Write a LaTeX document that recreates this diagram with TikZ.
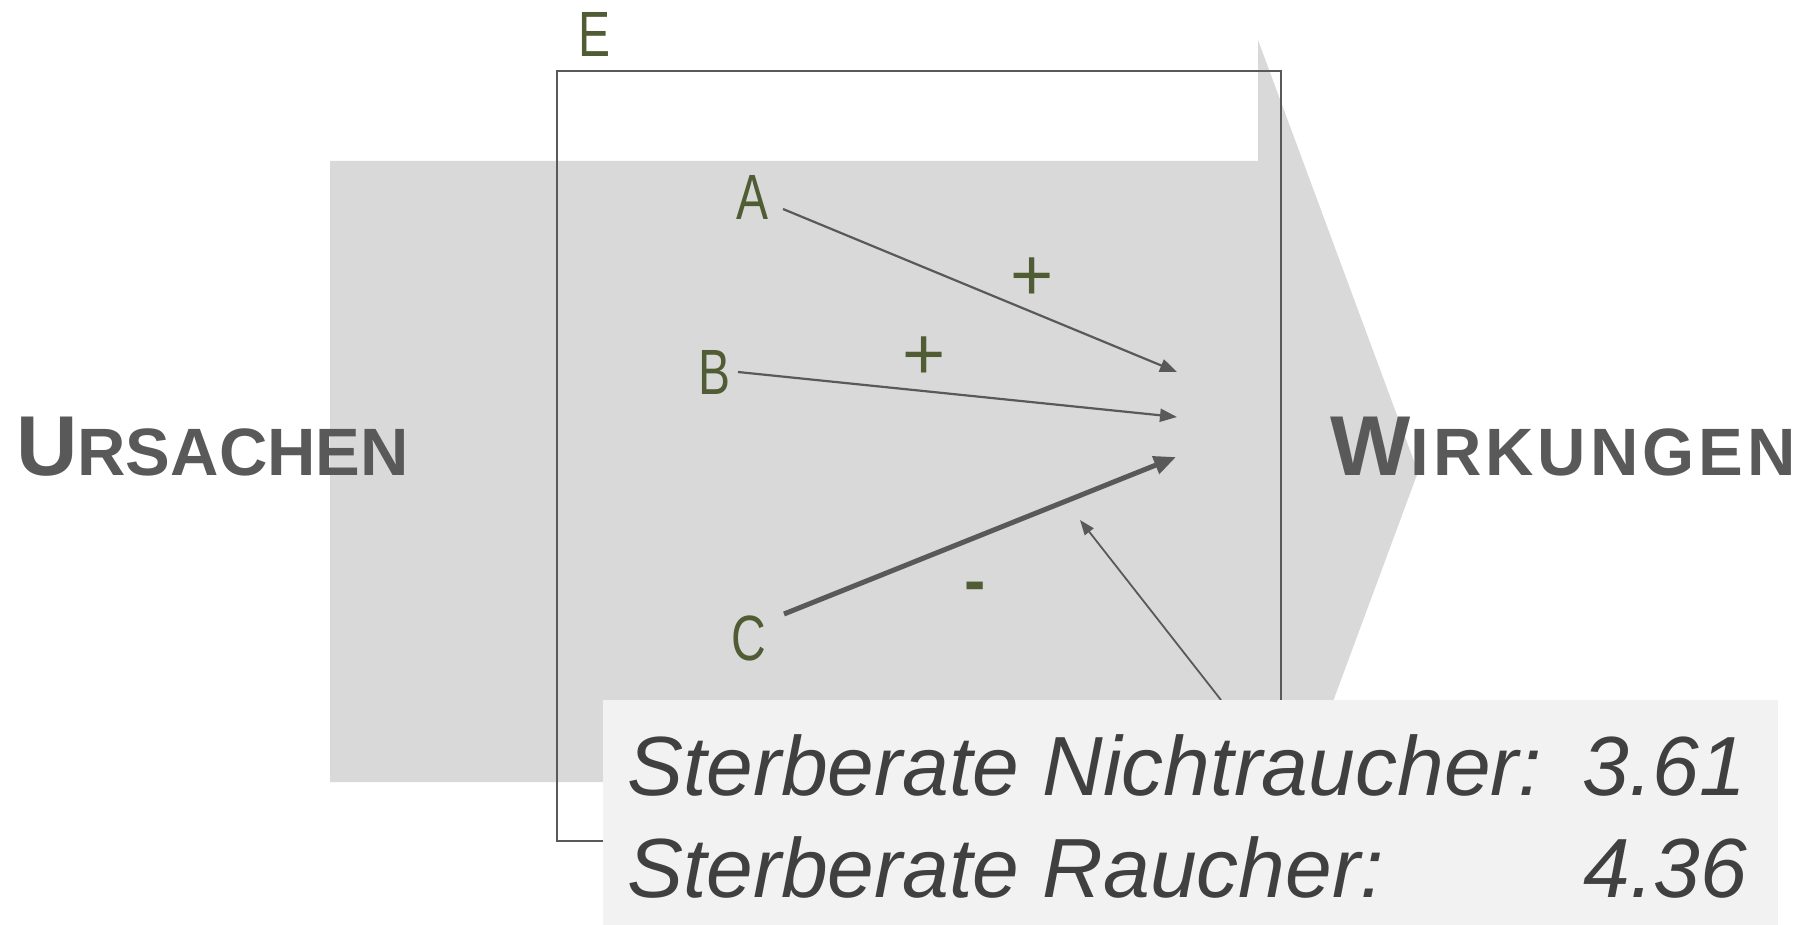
\documentclass[tikz,border=0pt]{standalone}
\usepackage{fontspec}
\setmainfont{Liberation Sans}
\newfontfamily\labfont[FakeStretch=0.75]{Liberation Sans}
\usetikzlibrary{arrows.meta}
\definecolor{bggray}{HTML}{D9D9D9}
\definecolor{boxgray}{HTML}{F2F2F2}
\definecolor{linegray}{HTML}{595959}
\definecolor{headgray}{HTML}{595959}
\definecolor{txtgray}{HTML}{404040}
\definecolor{olive}{RGB}{80,92,52}
\tikzset{
  lab/.style={font=\labfont\fontsize{64}{64}\selectfont, text=olive, inner sep=0pt, anchor=base},
  sign/.style={font=\fontsize{74}{74}\selectfont, text=olive, inner sep=0pt, anchor=base},
  minus/.style={font=\bfseries\fontsize{64}{64}\selectfont, text=olive, inner sep=0pt, anchor=base},
  head/.style={text=headgray, inner sep=0pt, anchor=base west, font=\bfseries},
  boxtxt/.style={text=txtgray, inner sep=0pt, font=\itshape\fontsize{84}{84}\selectfont},
  thinarr/.style={draw=linegray, line width=2.2pt, -{Triangle[length=17pt,width=13pt]}},
  thickarr/.style={draw=linegray, line width=5pt, -{Triangle[length=22pt,width=18pt]}},
  fbarr/.style={draw=linegray, line width=1.8pt, -{Triangle[length=15pt,width=11pt]}},
}
\begin{document}
\begin{tikzpicture}[x=1pt,y=-1pt]
\useasboundingbox (0,0) rectangle (1814,925);
% big gray arrow
\fill[bggray] (330,161) -- (1258,161) -- (1258,40) -- (1418,472) -- (1258,904) -- (1258,782) -- (330,782) -- cycle;
% E frame
\node[draw=linegray, line width=2pt, minimum width=724pt, minimum height=770pt, anchor=north west, inner sep=0pt, outer sep=0pt] (ebox) at (557,71) {};
\node[lab] (E) at (594,57) {E};
% factors
\node[lab] (A) at (752,220) {A};
\node[lab] (B) at (714,394) {B};
\node[lab] (C) at (749,660) {C};
\coordinate (As) at (783,209);
\coordinate (Ae) at (1177,372);
\coordinate (Bs) at (738,372);
\coordinate (Be) at (1177,417);
\coordinate (Cs) at (784,614);
\coordinate (Ce) at (1176,457);
\coordinate (Fs) at (1221,700);
\coordinate (Fe) at (1080,520);
\draw[thinarr] (As) -- (Ae);
\draw[thinarr] (Bs) -- (Be);
\draw[thickarr] (Cs) -- (Ce);
\draw[fbarr] (Fs) -- (Fe);
\node[sign] (pa) at (1032,300) {+};
\node[sign] (pb) at (924,379) {+};
\node[minus] (mc) at (975,602) {-};
% headings
\node[head] (urs) at (16,475) {{\fontsize{85}{85}\selectfont U}{\fontsize{67}{67}\selectfont RSACHEN}};
\node[head] (wir) at (1330,475) {{\fontsize{85}{85}\selectfont W}{\fontsize{67}{67}\selectfont I\kern4pt R\kern4pt K\kern4pt U\kern4pt N\kern4pt G\kern4pt E\kern4pt N}};
% text box
\node[fill=boxgray, minimum width=1175pt, minimum height=230pt, anchor=north west, inner sep=0pt, outer sep=0pt] (tb) at (603,700) {};
\node[boxtxt, anchor=base west] (l1) at (627,795) {Sterberate Nichtraucher:};
\node[boxtxt, anchor=base east] (v1) at (1746,795) {3.61};
\node[boxtxt, anchor=base west] (l2) at (627,897) {Sterberate Raucher:};
\node[boxtxt, anchor=base east] (v2) at (1747,897) {4.36};
\end{tikzpicture}
\end{document}
